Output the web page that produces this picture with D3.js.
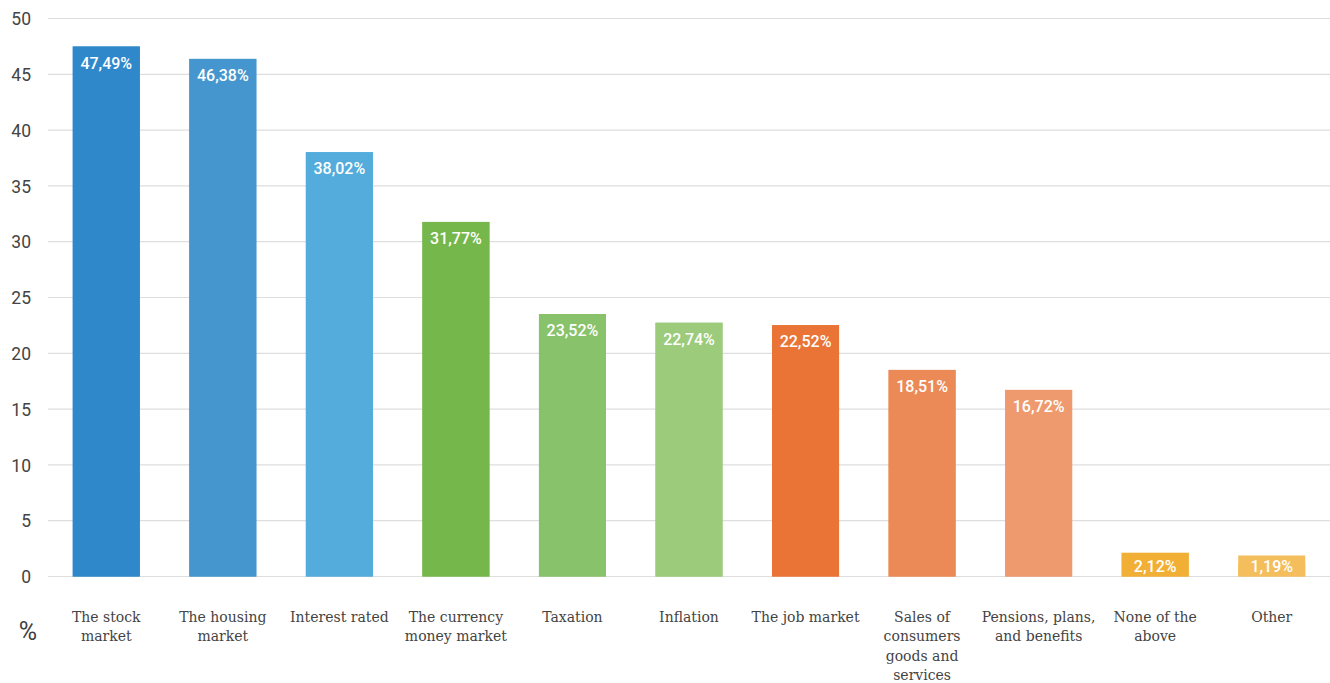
<!DOCTYPE html>
<html>
<head>
<meta charset="utf-8">
<script src="https://cdn.jsdelivr.net/npm/d3@7"></script>
<style>
  html, body { margin: 0; padding: 0; background: #fff; }
  svg { display: block; }
</style>
</head>
<body>
<svg id="chart" width="1330" height="683"></svg>
<script>
// Survey categories (x axis), one bar each
const categories = [
  ["The stock", "market"],
  ["The housing", "market"],
  ["Interest rated"],
  ["The currency", "money market"],
  ["Taxation"],
  ["Inflation"],
  ["The job market"],
  ["Sales of", "consumers", "goods and", "services"],
  ["Pensions, plans,", "and benefits"],
  ["None of the", "above"],
  ["Other"]
];
// Share of respondents, percent
const values = [47.49, 46.38, 38.02, 31.77, 23.52, 22.74, 22.52, 18.51, 16.72, 2.12, 1.19];
const barColors = ["#2E88CA", "#4596CE", "#53ACDB", "#76B74C", "#88C26A", "#9BCB7B",
                   "#EA7436", "#EC8A57", "#EF9A6E", "#F2AF36", "#F4BE5C"];
const yTicks = [0, 5, 10, 15, 20, 25, 30, 35, 40, 45, 50];
const yUnit = "%";

const svg = d3.select("#chart");
const plotLeft = 48, plotRight = 1330, plotTop = 18.5, plotBottom = 576.5;
const labelBoxH = 21;

const x = d3.scaleBand()
  .domain(d3.range(categories.length))
  .range([plotLeft, plotRight])
  .paddingInner(0.425)
  .paddingOuter(0.2125);

const y = d3.scaleLinear().domain([0, 50]).range([plotBottom, plotTop]);

// horizontal gridlines
svg.append("g")
  .selectAll("line")
  .data(yTicks)
  .join("line")
  .attr("x1", plotLeft).attr("x2", plotRight)
  .attr("y1", d => y(d)).attr("y2", d => y(d))
  .attr("stroke", "#dedede").attr("stroke-width", 1.2);

// y axis tick labels
const yAxis = d3.axisLeft(y).tickValues(yTicks).tickSize(0).tickPadding(0);
svg.append("g")
  .attr("transform", "translate(31,0)")
  .call(yAxis)
  .call(g => g.select(".domain").remove())
  .call(g => g.selectAll("text")
    .attr("font-family", "Roboto, 'Open Sans', sans-serif")
    .attr("font-size", 17.5)
    .attr("fill", "#444")
    .attr("dy", "0.35em"));

// bars
svg.append("g")
  .selectAll("rect")
  .data(values)
  .join("rect")
  .attr("x", (d, i) => x(i))
  .attr("width", x.bandwidth())
  .attr("y", d => y(d))
  .attr("height", d => y(0) - y(d))
  .attr("fill", (d, i) => barColors[i]);

// filled label boxes: they poke above bars that are too short to hold the label
svg.append("g")
  .selectAll("rect")
  .data(values)
  .join("rect")
  .attr("x", (d, i) => x(i))
  .attr("width", x.bandwidth())
  .attr("y", d => Math.min(y(d), y(0) - labelBoxH))
  .attr("height", d => y(0) - Math.min(y(d), y(0) - labelBoxH))
  .attr("fill", (d, i) => barColors[i]);

// value labels inside the top of each bar
svg.append("g")
  .selectAll("text")
  .data(values)
  .join("text")
  .attr("x", (d, i) => x(i) + x.bandwidth() / 2)
  .attr("y", d => Math.min(y(d) + 22, y(0) - 4.8))
  .attr("text-anchor", "middle")
  .attr("font-family", "Roboto, sans-serif")
  .attr("font-weight", 500)
  .attr("font-size", 16)
  .attr("fill", "#fff")
  .text(d => d.toFixed(2).replace(".", ",") + "%");

// category labels below the baseline
const catG = svg.append("g")
  .selectAll("text")
  .data(categories)
  .join("text")
  .attr("x", (d, i) => x(i) + x.bandwidth() / 2)
  .attr("y", 622)
  .attr("text-anchor", "middle")
  .attr("font-family", "'DejaVu Serif', serif")
  .attr("font-size", 14)
  .attr("fill", "#444");
catG.selectAll("tspan")
  .data(d => d)
  .join("tspan")
  .attr("x", function () { return this.parentNode.getAttribute("x"); })
  .attr("dy", (d, i) => i === 0 ? 0 : 19.3)
  .text(d => d);

// unit label
svg.append("text")
  .attr("x", 28).attr("y", 640)
  .attr("text-anchor", "middle")
  .attr("font-family", "Roboto, sans-serif")
  .attr("font-size", 25)
  .attr("fill", "#404040")
  .text(yUnit);
</script>
</body>
</html>
